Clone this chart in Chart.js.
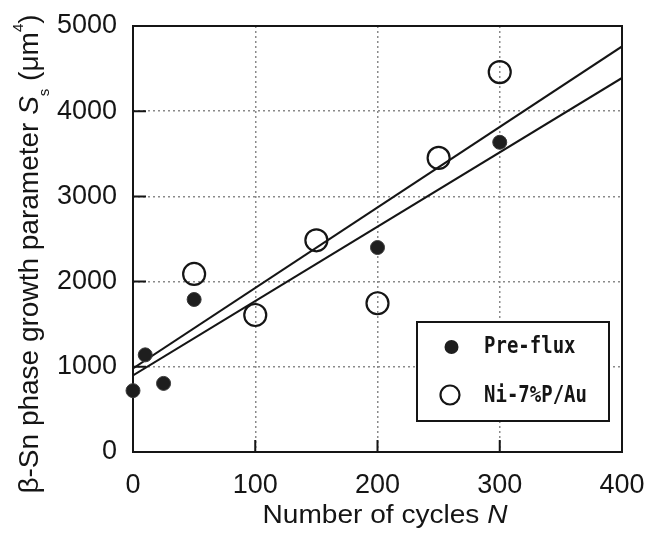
<!DOCTYPE html>
<html><head><meta charset="utf-8">
<script src="https://cdn.jsdelivr.net/npm/chart.js@4"></script>
<style>html,body{margin:0;padding:0;background:#fff}</style>
</head><body>
<canvas id="c" width="646" height="533" style="display:block;width:646px;height:533px"></canvas>
<script>
const preFluxCycles = [0, 10, 25, 50, 200, 300];
const preFluxValues = [720, 1140, 805, 1790, 2400, 3635];
const niCycles = [50, 100, 150, 200, 250, 300];
const niValues = [2090, 1608, 2485, 1746, 3452, 4459];
const fitCycles = [0, 400];
const niFit = [980, 4760];
const preFluxFit = [900, 4390];
const xTicks = [0, 100, 200, 300, 400];
const yTicks = [0, 1000, 2000, 3000, 4000, 5000];
const seriesLabels = ['Pre-flux', 'Ni-7%P/Au'];

const FONT = "'Liberation Sans', Arial, sans-serif";
const MONO = "'DejaVu Sans Mono', 'Liberation Mono', monospace";
const INK = '#151515';

function pts(xs, ys) { return xs.map((x, i) => ({ x: x, y: ys[i] })); }

const decor = {
  id: 'decor',
  beforeDatasetsDraw(chart) {
    const { ctx, chartArea: a, scales: { x, y } } = chart;
    ctx.save();
    ctx.strokeStyle = INK;
    ctx.lineWidth = 2;
    ctx.strokeRect(a.left, a.top, a.right - a.left, a.bottom - a.top);
    ctx.beginPath();
    xTicks.forEach(v => {
      const px = x.getPixelForValue(v);
      if (v === x.min || v === x.max) return;
      ctx.moveTo(px, a.bottom); ctx.lineTo(px, a.bottom - 12);
    });
    yTicks.forEach(v => {
      const py = y.getPixelForValue(v);
      if (v === y.min || v === y.max) return;
      ctx.moveTo(a.left, py); ctx.lineTo(a.left + 13, py);
    });
    ctx.stroke();
    ctx.restore();
  },
  afterDatasetsDraw(chart) {
    const { ctx } = chart;
    ctx.save();
    const bx = 417, by = 322, bw = 192, bh = 99;
    ctx.fillStyle = '#fff';
    ctx.fillRect(bx, by, bw, bh);
    ctx.strokeStyle = INK; ctx.lineWidth = 2;
    ctx.strokeRect(bx, by, bw, bh);
    ctx.beginPath(); ctx.arc(451.5, 347, 7, 0, Math.PI * 2);
    ctx.fillStyle = '#1e1e1e'; ctx.fill();
    ctx.beginPath(); ctx.arc(450, 395, 9.5, 0, Math.PI * 2);
    ctx.lineWidth = 2.2; ctx.strokeStyle = INK; ctx.stroke();
    ctx.fillStyle = INK;
    ctx.font = `bold 19px ${MONO}`;
    ctx.textBaseline = 'alphabetic';
    ctx.save(); ctx.translate(484, 353); ctx.scale(1, 1.2); ctx.fillText(seriesLabels[0], 0, 0); ctx.restore();
    ctx.save(); ctx.translate(484, 402); ctx.scale(1, 1.2); ctx.fillText(seriesLabels[1], 0, 0); ctx.restore();
    ctx.restore();
  },
  afterDraw(chart) {
    const { ctx } = chart;
    ctx.save();
    ctx.fillStyle = INK;
    ctx.textBaseline = 'alphabetic';
    const fx = `26px ${FONT}`, fxi = `italic 26px ${FONT}`;
    const xa = 'Number of cycles ', xb = 'N';
    ctx.font = fx; const wa = ctx.measureText(xa).width;
    ctx.font = fxi; const wb = ctx.measureText(xb).width;
    const sc = 1.08;
    ctx.save();
    ctx.translate(385 - sc * (wa + wb) / 2, 523);
    ctx.scale(sc, 1);
    ctx.font = fx; ctx.fillText(xa, 0, 0);
    ctx.font = fxi; ctx.fillText(xb, wa, 0);
    ctx.restore();
    const segs = [
      { t: 'β-Sn phase growth parameter ', f: `28px ${FONT}`, dy: 0 },
      { t: 'S', f: `italic 28px ${FONT}`, dy: 0 },
      { t: 's', f: `15px ${FONT}`, dy: 11 },
      { t: ' (μm', f: `28px ${FONT}`, dy: 0 },
      { t: '4', f: `15px ${FONT}`, dy: -15 },
      { t: ')', f: `28px ${FONT}`, dy: 0 }
    ];
    let total = 0;
    segs.forEach(s => { ctx.font = s.f; s.w = ctx.measureText(s.t).width; total += s.w; });
    ctx.translate(38, 254);
    ctx.rotate(-Math.PI / 2);
    let cx = -total / 2;
    segs.forEach(s => { ctx.font = s.f; ctx.fillText(s.t, cx, s.dy); cx += s.w; });
    ctx.restore();
  }
};

new Chart(document.getElementById('c'), {
  type: 'scatter',
  data: {
    datasets: [
      { label: seriesLabels[0], data: pts(preFluxCycles, preFluxValues), pointRadius: 7,
        pointBackgroundColor: '#1e1e1e', pointBorderColor: '#3a3a3a', pointBorderWidth: 1, showLine: false, clip: false },
      { label: seriesLabels[1], data: pts(niCycles, niValues), pointRadius: 11,
        pointBackgroundColor: 'rgba(0,0,0,0)', pointBorderColor: INK, pointBorderWidth: 2.2, showLine: false, clip: false },
      { label: 'Ni-7%P/Au fit', data: pts(fitCycles, niFit), showLine: true, borderColor: INK, borderWidth: 2,
        pointRadius: 0, fill: false },
      { label: 'Pre-flux fit', data: pts(fitCycles, preFluxFit), showLine: true, borderColor: INK, borderWidth: 2,
        pointRadius: 0, fill: false }
    ]
  },
  options: {
    responsive: false, animation: false, events: [],
    layout: { padding: { top: 26, right: 24, left: 0, bottom: 0 } },
    plugins: { legend: { display: false }, tooltip: { enabled: false }, title: { display: false } },
    scales: {
      x: {
        type: 'linear', min: 0, max: 400,
        afterBuildTicks: s => { s.ticks = xTicks.map(v => ({ value: v })); },
        afterFit: s => { s.height = 81; s.paddingLeft = 0; s.paddingRight = 0; },
        grid: { color: '#8a8a8a', lineWidth: 1.5, drawTicks: false },
        border: { display: false, dash: [2, 3] },
        ticks: { font: { family: FONT, size: 27 }, color: INK, padding: 17, maxRotation: 0, callback: v => String(v) }
      },
      y: {
        type: 'linear', min: 0, max: 5000,
        afterBuildTicks: s => { s.ticks = yTicks.map(v => ({ value: v })); },
        afterFit: s => { s.width = 133; s.paddingTop = 0; s.paddingBottom = 0; },
        grid: { color: '#8a8a8a', lineWidth: 1.5, drawTicks: false },
        border: { display: false, dash: [2, 3] },
        ticks: { font: { family: FONT, size: 27 }, color: INK, padding: 16, callback: v => String(v) }
      }
    }
  },
  plugins: [decor]
});
</script>
</body></html>
